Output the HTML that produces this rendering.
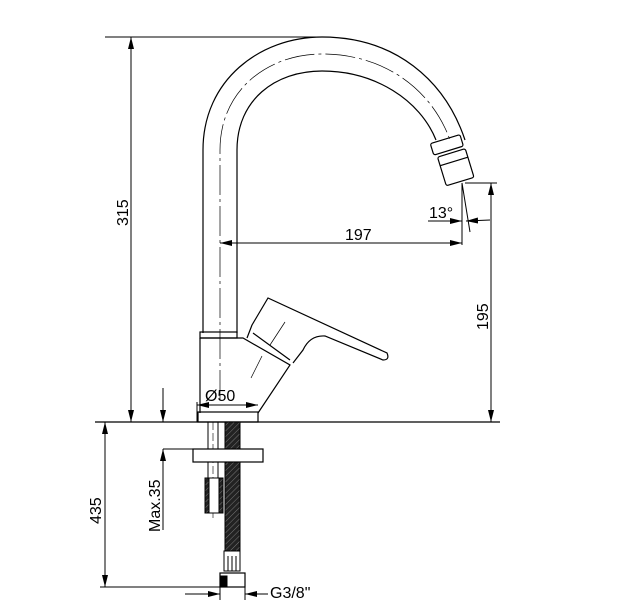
<!DOCTYPE html>
<html><head><meta charset="utf-8"><style>
html,body{margin:0;padding:0;background:#fff;}
svg{display:block;}
text{font-family:"Liberation Sans",sans-serif;font-size:16px;fill:#000;stroke:none;}
</style></head><body>
<svg width="627" height="607" viewBox="0 0 627 607" xmlns="http://www.w3.org/2000/svg">
<defs>
<marker id="a" viewBox="0 0 12 6" refX="12" refY="3" markerWidth="12" markerHeight="6" orient="auto-start-reverse" markerUnits="userSpaceOnUse"><path d="M0,0 L12,3 L0,6 z" fill="#000"/></marker>
<pattern id="h" width="4" height="4" patternUnits="userSpaceOnUse" patternTransform="rotate(45)"><rect width="4" height="4" fill="#222"/><line x1="0" y1="0" x2="0" y2="4" stroke="#777" stroke-width="1"/></pattern>
</defs>
<g fill="none" stroke="#000" stroke-width="1">
<line x1="105" y1="37" x2="330" y2="37"/>
<line x1="131" y1="37" x2="131" y2="422" marker-start="url(#a)" marker-end="url(#a)"/>
<line x1="95" y1="422" x2="500" y2="422" stroke-width="1.3"/>
<path d="M203,333 V150 C203,80 260,37 322,37 C395,37 445,80 465,140" stroke-width="1.2"/>
<path d="M237,333 V150 C237,100 275,71 322,71 C375,71 420,100 436,140" stroke-width="1.2"/>
<path d="M220,400 V150 C220,90 268,54 322,54 C385,54 432,90 450,140" stroke-dasharray="30,4,3,4" stroke-width="0.7"/>
<g transform="rotate(-17 452 160)" stroke-width="1.2">
<rect x="436" y="138" width="31" height="12" rx="2"/>
<rect x="439" y="153" width="29" height="30" rx="2"/>
<line x1="439" y1="162" x2="468" y2="162"/>
</g>
<line x1="462" y1="183" x2="462" y2="245"/>
<line x1="462" y1="183" x2="470" y2="232"/>
<line x1="428" y1="221" x2="455" y2="221"/>
<line x1="445" y1="221" x2="462" y2="221" marker-end="url(#a)"/>
<line x1="490" y1="220" x2="466" y2="221" marker-end="url(#a)"/>
<line x1="220" y1="243" x2="462" y2="243" marker-start="url(#a)" marker-end="url(#a)"/>
<line x1="465" y1="183" x2="497" y2="183"/>
<line x1="491" y1="183" x2="491" y2="422" marker-start="url(#a)" marker-end="url(#a)"/>
<rect x="200" y="332" width="37" height="6" stroke-width="1.2"/>
<path d="M200,338 H243 L290,365 L258,413 M200,338 V413" stroke-width="1.2"/>
<path d="M252,325 L268,298 L387,353 Q390,360 383,360 L325,336 Q310,335 303,350 L293,363 M252,325 L247,338 M253,333 L290,360" stroke-width="1.2"/>
<line x1="285" y1="322" x2="270" y2="345" stroke-width="0.7"/>
<line x1="262" y1="356" x2="251" y2="378" stroke-width="0.7"/>
<rect x="198" y="412" width="60" height="10" stroke-width="1.2"/>
<line x1="197" y1="405" x2="258" y2="405" marker-start="url(#a)" marker-end="url(#a)"/>
<line x1="197" y1="402" x2="197" y2="422"/>
<line x1="208" y1="422" x2="208" y2="478"/>
<line x1="218" y1="422" x2="218" y2="478"/>
<line x1="213" y1="422" x2="213" y2="520" stroke-dasharray="8,3" stroke-width="0.6"/>
<rect x="225" y="422" width="15" height="130" fill="url(#h)" stroke="#000"/>
<rect x="193" y="449" width="70" height="13" fill="#fff" stroke-width="1.2"/>
<rect x="205" y="478" width="18" height="35" fill="#fff"/>
<rect x="205" y="478" width="4" height="35" fill="url(#h)"/>
<rect x="219" y="478" width="4" height="35" fill="url(#h)"/>
<rect x="224" y="551" width="16" height="20" fill="#fff"/>
<line x1="228" y1="556" x2="228" y2="571"/><line x1="232" y1="556" x2="232" y2="571"/><line x1="236" y1="556" x2="236" y2="571"/>
<rect x="220" y="573" width="25" height="14" fill="#fff" stroke-width="1.2"/>
<rect x="221" y="576" width="6" height="10" fill="#000"/>
<line x1="163" y1="388" x2="163" y2="422" marker-end="url(#a)"/>
<line x1="163" y1="530" x2="163" y2="449" marker-end="url(#a)"/>
<line x1="163" y1="449" x2="193" y2="449"/>
<line x1="105" y1="422" x2="105" y2="587" marker-start="url(#a)" marker-end="url(#a)"/>
<line x1="100" y1="587" x2="222" y2="587"/>
<line x1="185" y1="594" x2="220" y2="594" marker-end="url(#a)"/>
<line x1="268" y1="594" x2="245" y2="594" marker-end="url(#a)"/>
<line x1="220" y1="587" x2="220" y2="600"/><line x1="245" y1="587" x2="245" y2="600"/>
</g>
<text x="429" y="218">13°</text>
<text x="345" y="240">197</text>
<text x="205" y="401">Ø50</text>
<text transform="translate(128,226) rotate(-90)">315</text>
<text transform="translate(488,330) rotate(-90)">195</text>
<text transform="translate(160,532) rotate(-90)">Max.35</text>
<text transform="translate(101,524) rotate(-90)">435</text>
<text x="270" y="598">G3/8"</text>
</svg>
</body></html>
